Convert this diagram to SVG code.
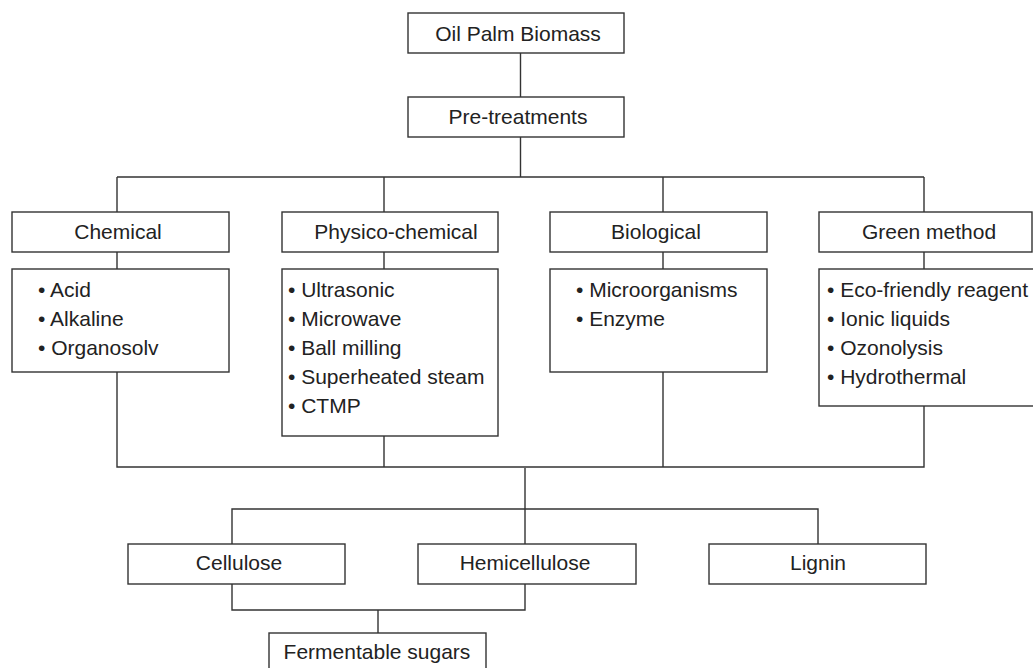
<svg xmlns="http://www.w3.org/2000/svg" width="1033" height="668" viewBox="0 0 1033 668">
<style>
.box{fill:#fff;stroke:#333;stroke-width:1.4}
.ln{fill:none;stroke:#333;stroke-width:1.4}
text{font-family:"Liberation Sans",Arial,sans-serif;font-size:21px;fill:#222}
.c{text-anchor:middle}
</style>
<rect width="1033" height="668" fill="#fff"/>
<g id="connectors">
<path class="ln" d="M520.5,53V97M520.5,137V177M117,177H924M117,177V212M384,177V212M663,177V212M924,177V212"/>
<path class="ln" d="M117,252V269M384,252V269M663,252V269M924,252V269"/>
<path class="ln" d="M117,372V467H924V406M384,436V467M663,372V467"/>
<path class="ln" d="M525,468V544M232,544V509H818V544"/>
<path class="ln" d="M232,584V610H525V584M378,610V633"/>
</g>
<g id="oil-palm-biomass"><rect class="box" x="408" y="13" width="216" height="40"/><text class="c" x="518" y="41">Oil Palm Biomass</text></g>
<g id="pre-treatments"><rect class="box" x="408" y="97" width="216" height="40"/><text class="c" x="518" y="124">Pre-treatments</text></g>
<g id="chemical"><rect class="box" x="12" y="212" width="217" height="40"/><text class="c" x="118" y="239">Chemical</text></g>
<g id="physico-chemical"><rect class="box" x="282" y="212" width="216" height="40"/><text class="c" x="396" y="239">Physico-chemical</text></g>
<g id="biological"><rect class="box" x="550" y="212" width="217" height="40"/><text class="c" x="656" y="239">Biological</text></g>
<g id="green-method"><rect class="box" x="819" y="212" width="213" height="40"/><text class="c" x="929" y="239">Green method</text></g>
<g id="chemical-list"><rect class="box" x="12" y="269" width="217" height="103"/>
<text x="38" y="297">• Acid</text><text x="38" y="326">• Alkaline</text><text x="38" y="355">• Organosolv</text></g>
<g id="physico-list"><rect class="box" x="282" y="269" width="216" height="167"/>
<text x="288" y="297">• Ultrasonic</text><text x="288" y="326">• Microwave</text><text x="288" y="355">• Ball milling</text><text x="288" y="384">• Superheated steam</text><text x="288" y="413">• CTMP</text></g>
<g id="biological-list"><rect class="box" x="550" y="269" width="217" height="103"/>
<text x="576" y="297">• Microorganisms</text><text x="576" y="326">• Enzyme</text></g>
<g id="green-list"><rect class="box" x="819" y="269" width="216" height="137"/>
<text x="827" y="297">• Eco-friendly reagent</text><text x="827" y="326">• Ionic liquids</text><text x="827" y="355">• Ozonolysis</text><text x="827" y="384">• Hydrothermal</text></g>
<g id="cellulose"><rect class="box" x="128" y="544" width="217" height="40"/><text class="c" x="239" y="570">Cellulose</text></g>
<g id="hemicellulose"><rect class="box" x="418" y="544" width="218" height="40"/><text class="c" x="525" y="570">Hemicellulose</text></g>
<g id="lignin"><rect class="box" x="709" y="544" width="217" height="40"/><text class="c" x="818" y="570">Lignin</text></g>
<g id="fermentable-sugars"><rect class="box" x="269" y="633" width="217" height="40"/><text class="c" x="377" y="659">Fermentable sugars</text></g>
</svg>
